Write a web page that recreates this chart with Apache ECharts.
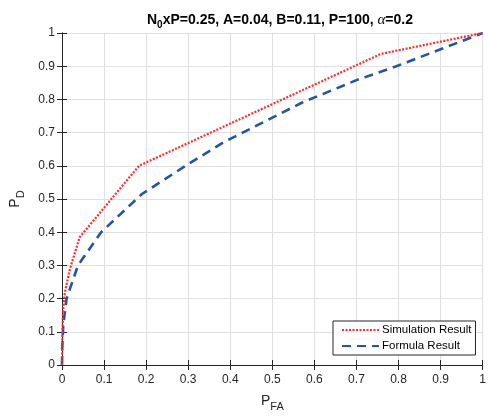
<!DOCTYPE html>
<html><head><meta charset="utf-8">
<script src="https://cdn.jsdelivr.net/npm/echarts@6/dist/echarts.min.js"></script>
<style>html,body{margin:0;padding:0;background:#fff}#c{width:489px;height:417px}</style>
</head><body><div id="c"></div>
<script>
const simPFA = [0, 0.001, 0.003, 0.007, 0.019, 0.042, 0.183, 0.758, 1];
const simPD  = [0, 0.1, 0.17, 0.22, 0.29, 0.385, 0.6, 0.937, 1];
const formPFA = [0, 0.0005, 0.003, 0.011, 0.038, 0.093, 0.19, 0.3, 0.383, 0.5, 0.57, 0.7, 0.793, 0.9, 1];
const formPD  = [0, 0.05, 0.12, 0.2, 0.3, 0.4, 0.515, 0.605, 0.67, 0.745, 0.79, 0.858, 0.899, 0.951, 1];
const seriesNames = ['Simulation Result', 'Formula Result'];

const chart = echarts.init(document.getElementById('c'), null, {renderer: 'canvas'});
const font = 'Liberation Sans, Arial, Helvetica, sans-serif';
const txt = '#262626';
const fmt = v => String(Math.round(v * 10) / 10);
const axCommon = {
  type: 'value', min: 0, max: 1, interval: 0.1,
  axisLine: {show: true, lineStyle: {color: txt, width: 1}},
  axisTick: {show: true, inside: true, length: 5, lineStyle: {color: txt}},
  splitLine: {show: false}
};
chart.setOption({
  animation: false,
  backgroundColor: '#fff',
  title: {
    text: '{b|N}{s|0}{b|xP=0.25, A=0.04, B=0.11, P=100, }{a|α}{b|=0.2}',
    left: 275, textAlign: 'center', top: 6,
    textStyle: {
      rich: {
        b: {fontFamily: font, fontWeight: 'bold', fontSize: 14, color: '#000'},
        s: {fontFamily: font, fontWeight: 'bold', fontSize: 10, color: '#000', padding: [9, 0, 0, 0]},
        a: {fontFamily: 'Liberation Serif, serif', fontStyle: 'italic', fontWeight: 'normal', fontSize: 15, color: '#000'}
      }
    }
  },
  grid: {left: 62, right: 1, top: 33, bottom: 50, show: false},
  legend: {
    data: seriesNames,
    orient: 'vertical', left: 333, top: 321,
    backgroundColor: '#fff', borderColor: txt, borderWidth: 1,
    padding: [3, 4, 3, 8], itemGap: 4, itemWidth: 37, itemHeight: 10,
    itemStyle: {opacity: 0},
    textStyle: {fontFamily: font, fontSize: 11.5, color: '#000', padding: [0, 0, 0, -2]}
  },
  xAxis: [
    Object.assign({}, axCommon, {
      position: 'bottom',
      name: '{p|P}{s|FA}', nameLocation: 'middle', nameGap: 25,
      nameTextStyle: {rich: {
        p: {fontFamily: font, fontSize: 14, color: txt},
        s: {fontFamily: font, fontSize: 11, color: txt, padding: [11, 0, 0, 0]}
      }},
      axisLabel: {formatter: fmt, fontFamily: font, fontSize: 12, color: txt, margin: 9},
      splitLine: {show: true, lineStyle: {color: '#e0e0e0', width: 1}}
    }),
    Object.assign({}, axCommon, {position: 'top', axisLabel: {show: false}})
  ],
  yAxis: [
    Object.assign({}, axCommon, {
      position: 'left',
      name: '{p|P}{s|D}', nameLocation: 'middle', nameGap: 36, nameRotate: 90,
      nameTextStyle: {rich: {
        p: {fontFamily: font, fontSize: 14, color: txt},
        s: {fontFamily: font, fontSize: 11, color: txt, padding: [11, 0, 0, 0]}
      }},
      axisLabel: {formatter: fmt, fontFamily: font, fontSize: 12, color: txt, margin: 7},
      splitLine: {show: true, lineStyle: {color: '#e0e0e0', width: 1}}
    }),
    Object.assign({}, axCommon, {position: 'right', axisLabel: {show: false}})
  ],
  series: [
    {
      name: seriesNames[0], type: 'line', symbol: 'none', z: 3,
      data: simPFA.map((x, i) => [x, simPD[i]]),
      lineStyle: {color: '#ff2a2a', width: 2.2, type: [2, 1.5]},
      itemStyle: {color: '#ff2a2a'}
    },
    {
      name: seriesNames[1], type: 'line', symbol: 'none', z: 2,
      data: formPFA.map((x, i) => [x, formPD[i]]),
      lineStyle: {color: '#2155a8', width: 2.6, type: [9, 6]},
      itemStyle: {color: '#2155a8'}
    }
  ]
});
</script></body></html>
